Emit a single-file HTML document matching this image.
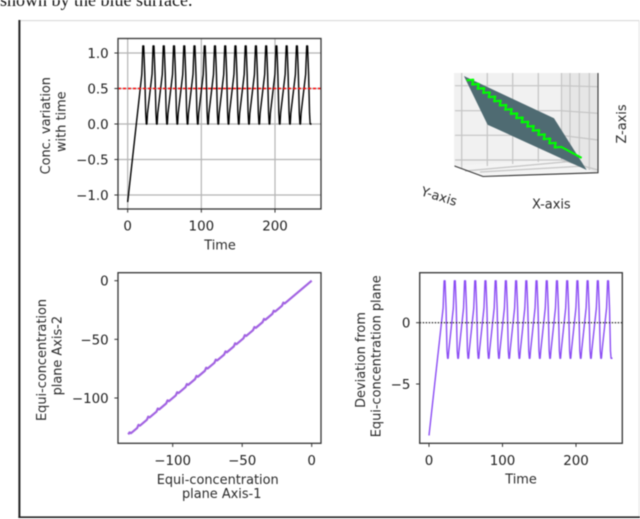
<!DOCTYPE html>
<html>
<head>
<meta charset="utf-8">
<title>Concentration figure</title>
<style>
html,body{margin:0;padding:0;background:#fff;width:640px;height:519px;overflow:hidden}
svg{display:block;position:absolute;left:0;top:0;filter:blur(0.5px)}
text{font-family:"DejaVu Sans","Liberation Sans",sans-serif;fill:#222}
.tick{font-size:13.4px}
.lab{font-size:12.9px;fill:#2a2a2a}
.sp{fill:none;stroke:#333;stroke-width:1.3}
</style>
</head>
<body>
<svg id="fig" width="640" height="519" viewBox="0 0 640 519" xmlns="http://www.w3.org/2000/svg">
  <text x="0" y="6" style="font-family:'Liberation Serif',serif;font-size:18px;fill:#111">shown by the blue surface.</text>
  <rect x="19" y="20" width="620" height="1.2" fill="#dcdcdc"/>
  <rect x="638.6" y="20" width="1" height="497" fill="#e2e2e2"/>
  <rect x="18.4" y="20" width="2" height="498" fill="#222"/>
  <rect x="18.4" y="516.4" width="621.6" height="1.6" fill="#222"/>

  <g id="p1"></g>
  <rect class="sp" x="118" y="38.5" width="203" height="170.5"/>
  <text class="lab" text-anchor="middle" transform="translate(50,125.7) rotate(-90)">Conc. variation</text>
  <text class="lab" text-anchor="middle" transform="translate(65.5,121.7) rotate(-90)">with time</text>
  <text class="lab" text-anchor="middle" x="220" y="249.5">Time</text>

  <g id="p2"></g>
  <text class="lab" text-anchor="middle" transform="translate(439,196.7) rotate(17) translate(0,4)">Y-axis</text>
  <text class="lab" text-anchor="middle" x="551.3" y="208.5">X-axis</text>
  <text class="lab" text-anchor="middle" transform="translate(626,124) rotate(-90)">Z-axis</text>

  <g id="p3"></g>
  <rect class="sp" x="118" y="272.7" width="203" height="170.6"/>
  <text class="lab" text-anchor="middle" transform="translate(45.8,360) rotate(-90)">Equi-concentration</text>
  <text class="lab" text-anchor="middle" transform="translate(61.5,355.7) rotate(-90)">plane Axis-2</text>
  <text class="lab" text-anchor="middle" x="217.7" y="483.8">Equi-concentration</text>
  <text class="lab" text-anchor="middle" x="221.7" y="497.8">plane Axis-1</text>

  <g id="p4"></g>
  <rect class="sp" x="419.7" y="272.7" width="202.6" height="170.6"/>
  <text class="lab" text-anchor="middle" transform="translate(365.2,360) rotate(-90)">Deviation from</text>
  <text class="lab" text-anchor="middle" transform="translate(380.5,356.3) rotate(-90)">Equi-concentration plane</text>
  <text class="lab" text-anchor="middle" x="521" y="483.5">Time</text>
</svg>
<script>
var times = [0,
19.2,20.6,21.8,23.2,24.5,25.3,26.1,26.9,
33.1,34.5,35.7,37.1,38.4,39.2,40,40.8,
47,48.4,49.6,51,52.3,53.1,53.9,54.7,
60.9,62.3,63.5,64.9,66.2,67,67.8,68.6,
74.8,76.2,77.4,78.8,80.1,80.9,81.7,82.5,
88.7,90.1,91.3,92.7,94,94.8,95.6,96.4,
102.6,104,105.2,106.6,107.9,108.7,109.5,110.3,
116.5,117.9,119.1,120.5,121.8,122.6,123.4,124.2,
130.4,131.8,133,134.4,135.7,136.5,137.3,138.1,
144.3,145.7,146.9,148.3,149.6,150.4,151.2,152,
158.2,159.6,160.8,162.2,163.5,164.3,165.1,165.9,
172.1,173.5,174.7,176.1,177.4,178.2,179,179.8,
186,187.4,188.6,190,191.3,192.1,192.9,193.7,
199.9,201.3,202.5,203.9,205.2,206,206.8,207.6,
213.8,215.2,216.4,217.8,219.1,219.9,220.7,221.5,
227.7,229.1,230.3,231.7,233,233.8,234.6,235.4,
241.6,243,244.2,245.6,246.9,247.7,248.5,249.6];

var concValues = [-1.1,
0.7,1.1,1.1,0.7,0.15,0,0,0.15,
0.7,1.1,1.1,0.7,0.15,0,0,0.15,
0.7,1.1,1.1,0.7,0.15,0,0,0.15,
0.7,1.1,1.1,0.7,0.15,0,0,0.15,
0.7,1.1,1.1,0.7,0.15,0,0,0.15,
0.7,1.1,1.1,0.7,0.15,0,0,0.15,
0.7,1.1,1.1,0.7,0.15,0,0,0.15,
0.7,1.1,1.1,0.7,0.15,0,0,0.15,
0.7,1.1,1.1,0.7,0.15,0,0,0.15,
0.7,1.1,1.1,0.7,0.15,0,0,0.15,
0.7,1.1,1.1,0.7,0.15,0,0,0.15,
0.7,1.1,1.1,0.7,0.15,0,0,0.15,
0.7,1.1,1.1,0.7,0.15,0,0,0.15,
0.7,1.1,1.1,0.7,0.15,0,0,0.15,
0.7,1.1,1.1,0.7,0.15,0,0,0.15,
0.7,1.1,1.1,0.7,0.15,0,0,0.15,
0.7,1.1,1.1,0.7,0.15,0,0,0];

var deviationValues = [-9.2,
1.2,3.42,3.42,1.2,-2.3,-2.9,-2.9,-2.3,
1.2,3.42,3.42,1.2,-2.3,-2.9,-2.9,-2.3,
1.2,3.42,3.42,1.2,-2.3,-2.9,-2.9,-2.3,
1.2,3.42,3.42,1.2,-2.3,-2.9,-2.9,-2.3,
1.2,3.42,3.42,1.2,-2.3,-2.9,-2.9,-2.3,
1.2,3.42,3.42,1.2,-2.3,-2.9,-2.9,-2.3,
1.2,3.42,3.42,1.2,-2.3,-2.9,-2.9,-2.3,
1.2,3.42,3.42,1.2,-2.3,-2.9,-2.9,-2.3,
1.2,3.42,3.42,1.2,-2.3,-2.9,-2.9,-2.3,
1.2,3.42,3.42,1.2,-2.3,-2.9,-2.9,-2.3,
1.2,3.42,3.42,1.2,-2.3,-2.9,-2.9,-2.3,
1.2,3.42,3.42,1.2,-2.3,-2.9,-2.9,-2.3,
1.2,3.42,3.42,1.2,-2.3,-2.9,-2.9,-2.3,
1.2,3.42,3.42,1.2,-2.3,-2.9,-2.9,-2.3,
1.2,3.42,3.42,1.2,-2.3,-2.9,-2.9,-2.3,
1.2,3.42,3.42,1.2,-2.3,-2.9,-2.9,-2.3,
1.2,3.42,3.42,1.2,-2.3,-2.9,-2.9,-2.9];

var planeAxis1 = [0,
-19.4,-20.4,-21.4,-26.3,-27.3,-28.3,-33.3,-34.3,-35.3,-40.2,-41.2,-42.2,
-47.1,-48.1,-49.1,-54.1,-55.1,-56.1,-61,-62,-63,-68,-69,-70,
-74.9,-75.9,-76.9,-81.9,-82.9,-83.9,-88.8,-89.8,-90.8,-95.8,-96.8,-97.8,
-102.7,-103.7,-104.7,-109.7,-110.7,-111.7,-116.6,-117.6,-118.6,-123.6,-124.6,-125.6,
-130,-131,-132];

var planeAxis2 = [0,
-19.4,-18.7,-21.4,-26.3,-25.6,-28.3,-33.3,-32.6,-35.3,-40.2,-39.5,-42.2,
-47.1,-46.4,-49.1,-54.1,-53.4,-56.1,-61,-60.3,-63,-68,-67.3,-70,
-74.9,-74.2,-76.9,-81.9,-81.2,-83.9,-88.8,-88.1,-90.8,-95.8,-95.1,-97.8,
-102.7,-102,-104.7,-109.7,-109,-111.7,-116.6,-115.9,-118.6,-123.6,-122.9,-125.6,
-130,-129.3,-131];

var surfaceA = [0.5,73.5,100,19.7];
var surfaceB = [0,45,100,51.8];
var trajectoryA = [2.7,8.1,7.2,12.6,11.6,17,16.1,21.5,20.5,25.9,25,30.4,29.5,34.9,33.9,39.3,38.4,43.8,42.8,48.2,47.3,52.7,51.8,57.2,56.2,61.6,60.7,66.1,65.1,70.5,69.6,75,74,79.4,95.9];
var trajectoryB = [4.6,3.9,9.1,8.4,13.5,12.8,18,17.3,22.5,21.8,26.9,26.2,31.4,30.7,35.9,35.2,40.4,39.7,44.8,44.1,49.3,48.6,53.8,53.1,58.2,57.5,62.7,62,67.2,66.5,71.7,71,76.1,75.4,87.2];

var timeTicks = [0,100,200];
var timeTickLabels = ['0','100','200'];
var concTicks = [1,0.5,0,-0.5,-1];
var concTickLabels = ['1.0','0.5','0.0','\u22120.5','\u22121.0'];
var planeXTicks = [-100,-50,0];
var planeXTickLabels = ['\u2212100','\u221250','0'];
var planeYTicks = [0,-50,-100];
var planeYTickLabels = ['0','\u221250','\u2212100'];
var devTicks = [0,-5];
var devTickLabels = ['0','\u22125'];
var concThreshold = 0.5;
var devBaseline = 0;

var NS = 'http://www.w3.org/2000/svg';
function linear(d0, d1, r0, r1) {
  return function (v) { return r0 + (v - d0) * (r1 - r0) / (d1 - d0); };
}
function make(parent, tag, attrs) {
  var el = document.createElementNS(NS, tag);
  for (var k in attrs) el.setAttribute(k, attrs[k]);
  parent.appendChild(el);
  return el;
}
function pointsOf(xs, ys, fx, fy) {
  return xs.map(function (v, i) { return fx(v).toFixed(2) + ',' + fy(ys[i]).toFixed(2); }).join(' ');
}
function drawXTicks(g, ticks, labels, fx, yBottom) {
  ticks.forEach(function (t, i) {
    var mark = make(g, 'line', {x1: fx(t), x2: fx(t), y1: yBottom, y2: yBottom + 3.6, stroke: '#333', 'stroke-width': 1});
    
    
    var label = make(g, 'text', {x: fx(t), y: yBottom + 21.6, 'text-anchor': 'middle', 'class': 'tick'});
    
    
    label.textContent = labels[i];
  });
}
function drawYTicks(g, ticks, labels, fy, xLeft) {
  ticks.forEach(function (t, i) {
    var mark = make(g, 'line', {x1: xLeft - 3.6, x2: xLeft, y1: fy(t), y2: fy(t), stroke: '#333', 'stroke-width': 1});
    
    
    var label = make(g, 'text', {x: xLeft - 9.3, y: fy(t) + 4.9, 'text-anchor': 'end', 'class': 'tick'});
    
    
    label.textContent = labels[i];
  });
}

/* Panel 1: concentration */
(function () {
  var g = document.getElementById('p1');
  var fx = linear(0, 200, 127.67, 275);
  var fy = linear(1, -1, 53, 195);
  timeTicks.forEach(function (t) {
    var l = make(g, 'line', {x1: fx(t), x2: fx(t), y1: 38.5, y2: 209, stroke: '#b4b4b4', 'stroke-width': 1.2});
    
    
  });
  concTicks.forEach(function (t) {
    var l = make(g, 'line', {x1: 118, x2: 321, y1: fy(t), y2: fy(t), stroke: '#b4b4b4', 'stroke-width': 1.2});
    
    
  });
  var series = make(g, 'polyline', {points: pointsOf(times, concValues, fx, fy), fill: 'none', stroke: '#000', 'stroke-width': 1.4, 'stroke-linejoin': 'round'});
  
  
  var th = make(g, 'line', {x1: 118, x2: 321, y1: fy(concThreshold), y2: fy(concThreshold), stroke: '#f00', 'stroke-width': 1.4, 'stroke-dasharray': '3 2'});
  
  
  drawXTicks(g, timeTicks, timeTickLabels, fx, 209);
  drawYTicks(g, concTicks, concTickLabels, fy, 118);
})();

/* Panel 2: 3D plane, oblique view */
(function () {
  var g = document.getElementById('p2');
  var fa = linear(0, 100, 463.3, 586.7);
  var fb = linear(0, 100, 76, 170);
  var back = make(g, 'polygon', {points: '454,73 561,73 561,160 454,166', fill: '#f1f1f1'});
  
  
  var side = make(g, 'polygon', {points: '561,73 598,73 598,173 561,160', fill: '#e6e6e6'});
  
  
  var floor = make(g, 'polygon', {points: '454,166 561,160 598,173 483,176.5', fill: '#f4f4f4'});
  
  
  [[461.7,73,461.7,168],[487.3,73,487.3,166],[512.7,73,512.7,164],[538.3,73,538.3,162],[561.5,73,561.5,160],
   [570,73,570,163],[579.3,73,579.3,166.5],[589.3,73,589.3,170],
   [455,85.7,561,85.7],[455,110.7,561,110.7],[455,135.3,561,135.3],[455,160,561,160],
   [561,85.7,598,86.7],[561,110.7,598,113.3],[561,135.3,598,140],[561,160,598,170],
   [465,171,575,161],[480,172,585,166]].forEach(function (c) {
    var l = make(g, 'line', {x1: c[0], y1: c[1], x2: c[2], y2: c[3], stroke: '#c4c4c4', 'stroke-width': 1.2});
    
    
  });
  var axes = make(g, 'polyline', {points: '454.5,166 483,176.5 598,172.7 598,73', fill: 'none', stroke: '#333', 'stroke-width': 1.1});
  
  
  var surf = make(g, 'polygon', {points: pointsOf(surfaceA, surfaceB, fa, fb), fill: '#4f6b72'});
  
  
  var traj = make(g, 'polyline', {points: pointsOf(trajectoryA, trajectoryB, fa, fb), fill: 'none', stroke: '#00ff00', 'stroke-width': 2.1, 'stroke-linejoin': 'round'});
  
  
})();

/* Panel 3: plane projection */
(function () {
  var g = document.getElementById('p3');
  var fx = linear(0, -100, 311.7, 172.7);
  var fy = linear(0, -100, 280.7, 398);
  var series = make(g, 'polyline', {points: pointsOf(planeAxis1, planeAxis2, fx, fy), fill: 'none', stroke: '#a263e2', 'stroke-width': 2.2, 'stroke-linejoin': 'round'});
  
  
  drawXTicks(g, planeXTicks, planeXTickLabels, fx, 443.3);
  drawYTicks(g, planeYTicks, planeYTickLabels, fy, 118);
})();

/* Panel 4: deviation */
(function () {
  var g = document.getElementById('p4');
  var fx = linear(0, 200, 429, 576);
  var fy = linear(0, -5, 322.7, 384);
  var series = make(g, 'polyline', {points: pointsOf(times, deviationValues, fx, fy), fill: 'none', stroke: '#8b4cf4', 'stroke-width': 1.4, 'stroke-linejoin': 'round'});
  
  
  var base = make(g, 'line', {x1: 419.7, x2: 622.3, y1: fy(devBaseline), y2: fy(devBaseline), stroke: '#111', 'stroke-width': 1.2, 'stroke-dasharray': '1.5 1.5'});
  
  
  drawXTicks(g, timeTicks, timeTickLabels, fx, 443.3);
  drawYTicks(g, devTicks, devTickLabels, fy, 419.7);
})();
</script>
</body>
</html>
